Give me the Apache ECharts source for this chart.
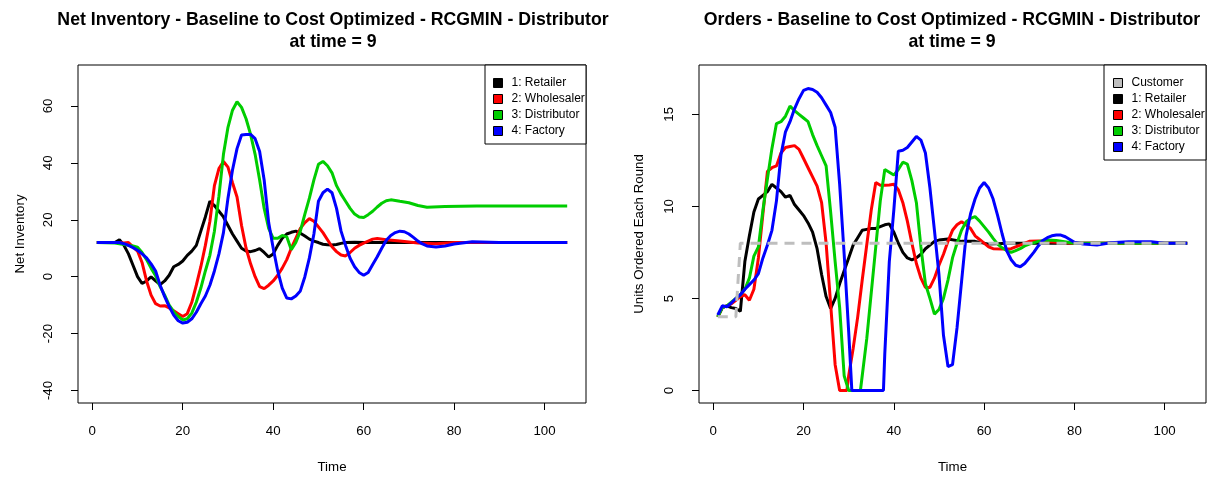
<!DOCTYPE html>
<html>
<head>
<meta charset="utf-8">
<script src="https://cdn.jsdelivr.net/npm/echarts@6/dist/echarts.min.js"></script>
<style>html,body{margin:0;padding:0;background:#fff}#c{width:1211px;height:479px}</style>
</head>
<body>
<div id="c"></div>
<script>
// ---- Data ----
const timeTicks = [0, 20, 40, 60, 80, 100];
const invTicks = [-40, -20, 0, 20, 40, 60];
const ordTicks = [0, 5, 10, 15];

const titleLeft = 'Net Inventory - Baseline to Cost Optimized - RCGMIN - Distributor';
const titleRight = 'Orders - Baseline to Cost Optimized - RCGMIN - Distributor';
const subTitle = 'at time = 9';
const names = ['1: Retailer', '2: Wholesaler', '3: Distributor', '4: Factory'];
const customerName = 'Customer';

// Net inventory [time, value]
const invRetailer = [[1,12],[5,12],[6,13],[7,11],[8,8],[9,4],[10,0],[11,-2.4],[12,-1.5],[13,-0.1],[14,-1.5],[15,-2.8],[16,-1.5],[17,0.5],[18,3.5],[19,4.3],[20,5.5],[21,7.5],[22,9],[23,11],[24,16],[25,21],[26,26.5],[27,25],[28,23],[29,21],[30,18],[31,15],[32,12.5],[33,10],[34,9],[35,8.8],[36,9.2],[37,9.9],[38,8.5],[39,6.9],[40,8],[41,11],[42,13.5],[43,15],[44,15.6],[45,16],[46,15.3],[47,14.3],[48,13.2],[49,12.5],[50,12],[51,11.4],[52,11.2],[53,11.1],[54,11.3],[55,11.7],[56,12],[58,12.1],[60,12],[105,12]];
const invWholesaler = [[1,12],[6,12],[7,11.8],[8,12],[9,10.5],[10,9],[11,5],[12,-1.5],[13,-6.5],[14,-9.5],[15,-10.3],[16,-10.2],[17,-11],[18,-12],[19,-13],[20,-14],[21,-13],[22,-9],[23,-3],[24,3.5],[25,11],[26,19.5],[27,32],[28,38],[29,40.5],[30,38.5],[31,33],[32,28],[33,18],[34,10],[35,4.5],[36,0],[37,-3.5],[38,-4.2],[39,-3],[40,-1.5],[41,0.5],[42,3],[43,6],[44,10],[45,13.5],[46,17],[47,19],[48,20.4],[49,19.5],[50,17.5],[51,15.5],[52,13],[53,10.5],[54,8.8],[55,7.6],[56,7.3],[57,8.5],[58,10],[59,11],[60,11.8],[61,12.5],[62,13.2],[63,13.4],[65,13],[68,12.5],[72,11.8],[76,11.6],[80,12],[105,12]];
const invDistributor = [[1,12],[5,11.8],[8,11],[9,10.8],[10,10.4],[11,8.5],[12,6],[13,3],[14,0.3],[15,-3.5],[16,-6.5],[17,-10],[18,-12.3],[19,-14],[20,-15.2],[21,-14.8],[22,-12.8],[23,-9],[24,-4],[25,2],[26,7.5],[27,16],[28,28.3],[29,43],[30,52.5],[31,58.5],[32,61.5],[33,59.5],[34,55.5],[35,50],[36,43],[37,34],[38,24],[39,17],[40,13.5],[41,13.5],[42,14.5],[43,14],[44,9.5],[45,12],[46,16],[47,22],[48,27.6],[49,34],[50,39.5],[51,40.5],[52,39],[53,36.5],[54,32],[55,29],[56,26.5],[57,24],[58,22],[59,21],[60,20.8],[61,21.8],[62,23],[63,24.5],[64,25.8],[65,26.7],[66,27],[67,26.8],[68,26.5],[70,26],[72,25],[74,24.4],[78,24.7],[85,24.8],[105,24.8]];
const invFactory = [[1,12],[6,12],[7,11.6],[8,11],[9,10.2],[10,9.3],[11,8],[12,6.6],[13,4.5],[14,2],[15,-3],[16,-7],[17,-10.5],[18,-13.5],[19,-15.5],[20,-16.3],[21,-16],[22,-14.8],[23,-12.5],[24,-9.5],[25,-6.8],[26,-3],[27,2],[28,8],[29,15.5],[30,27.6],[31,37.5],[32,45],[33,49.8],[34,50],[35,50],[36,48.5],[37,44],[38,34],[39,19],[40,10],[41,2],[42,-4],[43,-7.5],[44,-7.8],[45,-6.8],[46,-5],[47,0],[48,6.6],[49,15],[50,26.5],[51,29.5],[52,30.8],[53,29.5],[54,24],[55,16],[56,11],[57,6.5],[58,3.5],[59,1.5],[60,0.5],[61,1.5],[62,4.3],[63,7],[64,10],[65,12.8],[66,14.5],[67,15.5],[68,16],[69,15.8],[70,15],[71,13.8],[72,12.5],[73,11.5],[74,10.8],[76,10.4],[78,10.8],[80,11.5],[84,12.3],[90,12],[105,12]];

// Orders [time, value]
const ordCustomer = [[1,4],[5,4],[6,8],[105,8]];
const ordRetailer = [[1,4],[2,4.5],[3,4.6],[4,4.5],[5,4.45],[6,4.3],[7,7.0],[8,8.4],[9,9.7],[10,10.4],[11,10.6],[12,10.8],[13,11.2],[14,11],[15,10.8],[16,10.5],[17,10.6],[18,10.1],[19,9.8],[20,9.5],[21,9.1],[22,8.6],[23,7.7],[24,6.3],[25,5.1],[26,4.45],[27,5.0],[28,5.8],[29,6.5],[30,7.2],[31,7.9],[32,8.3],[33,8.7],[34,8.75],[35,8.8],[36,8.8],[37,8.9],[38,9],[39,9.05],[40,8.6],[41,8],[42,7.5],[43,7.2],[44,7.1],[45,7.2],[46,7.4],[47,7.7],[48,7.9],[49,8.1],[50,8.17],[52,8.23],[55,8.1],[58,8.1],[61,7.95],[65,8],[105,8]];
const ordWholesaler = [[1,4],[2,4.5],[3,4.6],[4,4.7],[5,4.9],[6,5.1],[7,5.2],[8,4.9],[9,5.5],[10,7.2],[11,9.6],[12,11.9],[13,12.1],[14,12.2],[15,12.9],[16,13.2],[17,13.25],[18,13.3],[19,13.1],[20,12.6],[21,12.1],[22,11.6],[23,11.1],[24,10.2],[25,8],[26,4.7],[27,1.4],[28,0],[29,0],[29.6,0],[30,0.8],[31,2.3],[32,4],[33,6],[34,7.9],[35,9.8],[36,11.3],[37,11.15],[38,11.15],[39,11.16],[40,11.2],[41,10.9],[42,10.2],[43,9.2],[44,8],[45,6.9],[46,6.1],[47,5.6],[48,5.6],[49,6.1],[50,6.8],[51,7.4],[52,8.1],[53,8.7],[54,9],[55,9.17],[56,9],[57,8.8],[58,8.4],[59,8.2],[60,8],[61,7.8],[62,7.7],[64,7.68],[66,7.7],[68,7.9],[70,8.1],[72,8.12],[76,8.05],[80,8],[105,8]];
const ordDistributor = [[1,4],[2,4.5],[3,4.6],[4,4.8],[5,5],[6,5.2],[7,5.5],[8,6.1],[9,7.3],[10,7.8],[11,9.8],[12,11.5],[13,13.15],[14,14.5],[15,14.6],[16,14.9],[17,15.45],[18,15.2],[19,15],[20,14.8],[21,14.6],[22,13.9],[23,13.3],[24,12.75],[25,12.2],[26,9.7],[27,7],[28,4.5],[29,0.8],[30,0],[31,0],[32,0],[32.6,0],[33,0.8],[34,2.8],[35,5.3],[36,7.8],[37,10.3],[38,12],[39,11.85],[40,11.7],[41,12],[42,12.4],[43,12.3],[44,11.4],[45,10.2],[46,7.8],[47,5.8],[48,5],[49,4.15],[50,4.4],[51,5],[52,6],[53,7.2],[54,8],[55,8.7],[56,9.15],[57,9.35],[58,9.44],[59,9.2],[60,8.9],[61,8.6],[62,8.26],[63,7.95],[64,7.75],[65,7.6],[66,7.5],[67,7.6],[68,7.7],[69,7.85],[70,7.95],[72,8.1],[74,8.17],[76,8.15],[80,8],[105,8]];
const ordFactory = [[1,4.1],[2,4.6],[3,4.55],[4,4.75],[5,5],[6,5.2],[7,5.5],[8,5.75],[9,6],[10,6.35],[11,7.2],[12,7.9],[13,8.7],[14,10.3],[15,12.8],[16,14.05],[17,14.6],[18,15.3],[19,15.85],[20,16.3],[21,16.4],[22,16.35],[23,16.2],[24,15.9],[25,15.5],[26,15.1],[27,14.3],[28,11.2],[29,7.4],[30,3.2],[30.7,0],[37.7,0],[38,2],[39,7],[40,9.8],[41,13],[42,13.05],[43,13.2],[44,13.5],[45,13.8],[46,13.6],[47,12.9],[48,11],[49,8.7],[50,6.3],[51,3],[52,1.3],[53,1.4],[54,3.4],[55,5.9],[56,8.4],[57,9.6],[58,10.4],[59,11],[60,11.3],[61,11],[62,10.4],[63,9.5],[64,8.5],[65,7.6],[66,7.1],[67,6.8],[68,6.72],[69,6.9],[70,7.2],[71,7.5],[72,7.85],[73,8.15],[74,8.3],[75,8.4],[76,8.44],[77,8.44],[78,8.35],[79,8.2],[80,8.05],[82,7.96],[85,7.9],[88,8.03],[92,8.08],[97,8.08],[100,8],[105,8]];

// ---- Chart ----
const FONT = 'Liberation Sans, Arial, sans-serif';
const colors = ['#000000', '#ff0000', '#00cd00', '#0000ff'];
const grayC = '#bebebe';

function mkX(idx){
  return {type:'value', gridIndex: idx, min:-3.16, max:109.16,
    name:'Time', nameLocation:'middle', nameGap:58, nameMoveOverlap:false,
    nameTextStyle:{fontFamily:FONT, fontSize:13.3, color:'#000'},
    axisLine:{show:false, onZero:false}, splitLine:{show:false},
    axisTick:{show:true, inside:false, length:7, customValues: timeTicks, lineStyle:{color:'#000'}},
    axisLabel:{customValues: timeTicks, margin:22, fontFamily:FONT, fontSize:13.3, color:'#000'}};
}
function mkY(idx, mn, mx, ticks, nm, gap){
  return {type:'value', gridIndex: idx, min:mn, max:mx,
    name: nm, nameLocation:'middle', nameGap:gap, nameRotate:90, nameMoveOverlap:false,
    nameTextStyle:{fontFamily:FONT, fontSize:13.3, color:'#000'},
    axisLine:{show:false, onZero:false}, splitLine:{show:false},
    axisTick:{show:true, inside:false, length:7, customValues: ticks, lineStyle:{color:'#000'}},
    axisLabel:{customValues: ticks, rotate:90, margin:23, fontFamily:FONT, fontSize:13.3, color:'#000'}};
}
function ln(name, data, color, xi, extra){
  return Object.assign({type:'line', name:name, data:data, xAxisIndex:xi, yAxisIndex:xi,
    showSymbol:false, symbol:'none', animation:false, color:color,
    lineStyle:{color:color, width:3}, emphasis:{disabled:true}}, extra||{});
}

const legendCommon = {orient:'vertical', itemWidth:9, itemHeight:9, itemGap:0, icon:'rect',
  selectedMode:false, itemStyle:{borderColor:'#000', borderWidth:1},
  textStyle:{fontFamily:FONT, fontSize:12, color:'#000', lineHeight:16, height:16, padding:[0,0,0,4]}, padding:0};

const titleFont = 'bold 17.7px ' + FONT;
const option = {
  backgroundColor:'#fff',
  animation:false,
  grid:[
    {left:78, top:65, width:508, height:340, show:true, borderColor:'#000', borderWidth:1, backgroundColor:'transparent'},
    {left:699, top:65, width:507, height:339, show:true, borderColor:'#000', borderWidth:1, backgroundColor:'transparent'}
  ],
  xAxis:[mkX(0), mkX(1)],
  yAxis:[mkY(0, -44.4, 74.4, invTicks, 'Net Inventory', 51), mkY(1, -0.68, 17.68, ordTicks, 'Units Ordered Each Round', 53)],
  legend:[
    Object.assign({}, legendCommon, {data:names, left:493, top:75}),
    Object.assign({}, legendCommon, {data:[customerName].concat(names), left:1113, top:75})
  ],
  graphic:[
    {type:'rect', shape:{x:485, y:65, width:101, height:79}, style:{fill:'#fff', stroke:'#000', lineWidth:1}, z:3},
    {type:'rect', shape:{x:1104, y:65, width:102, height:95}, style:{fill:'#fff', stroke:'#000', lineWidth:1}, z:3},
    {type:'text', x:333, y:20, style:{text:titleLeft, textAlign:'center', textVerticalAlign:'middle', font:titleFont, fill:'#000'}},
    {type:'text', x:333, y:42, style:{text:subTitle, textAlign:'center', textVerticalAlign:'middle', font:titleFont, fill:'#000'}},
    {type:'text', x:952, y:20, style:{text:titleRight, textAlign:'center', textVerticalAlign:'middle', font:titleFont, fill:'#000'}},
    {type:'text', x:952, y:42, style:{text:subTitle, textAlign:'center', textVerticalAlign:'middle', font:titleFont, fill:'#000'}}
  ],
  series:[
    ln(names[0], invRetailer, colors[0], 0),
    ln(names[1], invWholesaler, colors[1], 0),
    ln(names[2], invDistributor, colors[2], 0),
    ln(names[3], invFactory, colors[3], 0),
    ln(names[0], ordRetailer, colors[0], 1),
    ln(names[1], ordWholesaler, colors[1], 1),
    ln(names[2], ordDistributor, colors[2], 1),
    ln(names[3], ordFactory, colors[3], 1),
    ln(customerName, ordCustomer, grayC, 1, {lineStyle:{color:grayC, width:3, type:[10,7]}})
  ]
};
const chart = echarts.init(document.getElementById('c'), null, {renderer:'canvas'});
chart.setOption(option);
</script>
</body>
</html>
